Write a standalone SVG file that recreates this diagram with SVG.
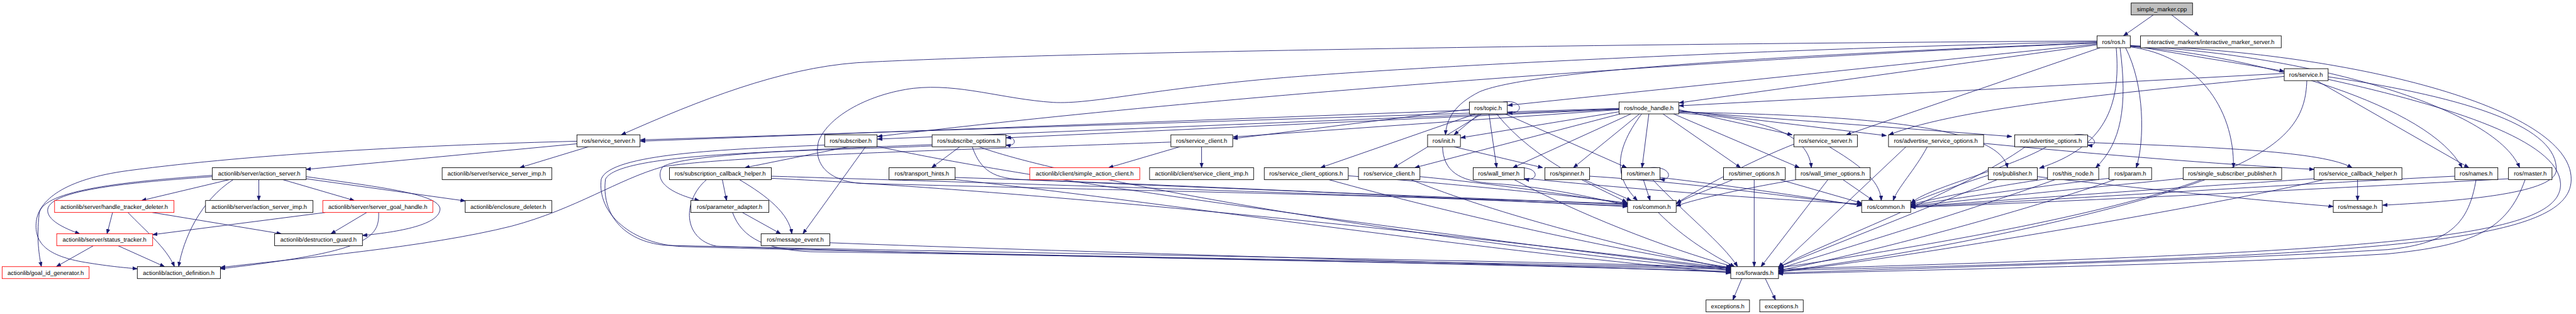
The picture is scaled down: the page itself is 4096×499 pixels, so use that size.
<svg xmlns="http://www.w3.org/2000/svg" width="4096" height="499" viewBox="0 0 4096 499">
<style>
.n rect{fill:#fff;stroke:#000;stroke-width:1.3}
.n.r rect{stroke:#f00}
.n.g rect{fill:#bfbfbf}
.n text{font-family:"Liberation Sans",Arial,sans-serif;font-size:14px;text-anchor:middle;fill:#000}
.e path{fill:none;stroke:#191970;stroke-width:1.3;marker-end:url(#a)}
</style>
<defs>
<marker id="a" markerUnits="userSpaceOnUse" markerWidth="12" markerHeight="10" refX="11" refY="4.5" orient="auto" viewBox="0 0 12 10">
<path d="M0,0.5 L11,4.5 L0,8.5 z" fill="#191970" stroke="#191970" stroke-width="1"/>
</marker>
</defs>
<rect width="4096" height="499" fill="#fff"/>
<g transform="scale(0.678)">
<g id="edges" class="e">
<path d="M5050,35 L4980,84"/>
<path d="M5093,35 L5157,84"/>
<path d="M4996,106 C5100,125 5250,148 5357,167"/>
<path d="M4918,96 C3600,104 2400,125 2010,147 C1830,160 1640,235 1457,316"/>
<path d="M4918,98 C4300,110 3400,150 3010,182 C2700,208 2560,245 2470,240 C2350,232 2250,195 2142,207 C2040,220 1945,270 1920,330 C1905,390 1950,425 2020,430 C2600,445 3400,462 3816,478"/>
<path d="M4918,100 C4300,125 3600,160 3470,215 C3410,245 3392,280 3390,316"/>
<path d="M4918,101 C4300,125 3000,205 2058,320"/>
<path d="M4918,103 L3536,247"/>
<path d="M4918,105 L3938,241"/>
<path d="M4925,112 L4330,316"/>
<path d="M4963,112 C4975,250 4935,345 4783,394"/>
<path d="M4972,112 C4990,250 4975,335 4915,393"/>
<path d="M4985,112 C5030,200 5030,330 5010,393"/>
<path d="M4996,110 C5150,130 5240,250 5238,393"/>
<path d="M4996,109 C5300,130 5700,250 5774,393"/>
<path d="M4996,108 C5400,125 5850,250 5909,393"/>
<path d="M4996,107 C5500,120 6030,250 6030,420 C6030,570 5600,600 4172,634"/>
<path d="M5357,172 L3938,248"/>
<path d="M5357,179 C5000,215 4600,250 4430,316"/>
<path d="M5460,180 C5800,230 6000,300 5995,400 C5990,450 5800,470 5588,481"/>
<path d="M5410,189 C5405,340 5300,460 4172,628"/>
<path d="M5433,189 L5790,393"/>
<path d="M5460,186 C5750,250 6000,330 6005,430 C6010,560 5600,590 4172,631"/>
<path d="M3797,262 L3426,323"/>
<path d="M3797,255 L2058,326"/>
<path d="M3797,256 L2360,323"/>
<path d="M3797,257 L2892,321"/>
<path d="M3797,254 L1502,328"/>
<path d="M3937,257 L4203,316"/>
<path d="M3937,259 L4424,318"/>
<path d="M3937,261 L4718,320"/>
<path d="M3937,263 C4400,270 4690,300 4708,393"/>
<path d="M3825,267 L3548,393"/>
<path d="M3845,267 L3690,393"/>
<path d="M3867,267 L3851,393"/>
<path d="M3900,267 L4082,393"/>
<path d="M3925,267 L4220,393"/>
<path d="M3850,267 C3780,360 3790,420 3840,470"/>
<path d="M3800,267 L3318,393"/>
<path d="M3937,265 C4100,275 4240,300 4248,393"/>
<path d="M3469,267 L3410,316"/>
<path d="M3492,267 L3510,393"/>
<path d="M3460,267 L3097,393"/>
<path d="M3530,267 L3815,393"/>
<path d="M3475,267 L3268,393"/>
<path d="M3446,256 L2892,325"/>
<path d="M3446,258 L1502,331"/>
<path d="M3525,239 C3570,232 3578,268 3536,264"/>
<path d="M3510,267 C3600,380 3750,440 3815,474"/>
<path d="M3383,344 C3385,400 3420,425 3500,430 C3650,440 3760,470 3816,481"/>
<path d="M3410,344 L3618,393"/>
<path d="M4290,344 C4350,380 4410,420 4412,470"/>
<path d="M4207,338 C4100,380 3990,440 3932,476"/>
<path d="M4520,344 C4490,400 4450,440 4440,470"/>
<path d="M4652,336 C4900,360 5200,385 5427,397"/>
<path d="M4470,344 L4171,626"/>
<path d="M4865,316 C4915,310 4925,345 4896,340"/>
<path d="M4800,344 C4700,400 4520,440 4482,476"/>
<path d="M4750,344 C4600,450 4300,560 4172,626"/>
<path d="M4896,334 C5200,345 5450,355 5516,393"/>
<path d="M3116,421 C3400,500 3800,590 4059,627"/>
<path d="M3162,412 C3400,430 3700,460 3817,476"/>
<path d="M3309,421 C3500,500 3850,590 4059,630"/>
<path d="M3330,414 C3500,430 3700,460 3817,478"/>
<path d="M3560,393 C3610,390 3612,425 3575,420"/>
<path d="M3551,421 C3700,500 3900,580 4064,625"/>
<path d="M3575,418 C3900,450 4200,470 4366,478"/>
<path d="M3715,421 L3826,470"/>
<path d="M3728,413 C4000,430 4250,470 4366,480"/>
<path d="M3870,393 C3920,388 3925,425 3893,420"/>
<path d="M3854,421 L3870,470"/>
<path d="M3876,421 C3950,500 4040,570 4075,625"/>
<path d="M3893,416 C4100,440 4250,465 4366,482"/>
<path d="M4114,421 L4114,625"/>
<path d="M4064,421 C4020,440 3960,460 3931,478"/>
<path d="M4174,421 L4366,476"/>
<path d="M4287,421 L4130,625"/>
<path d="M4322,421 L4393,470"/>
<path d="M4213,421 C4100,440 3980,465 3931,483"/>
<path d="M4684,421 L4171,626"/>
<path d="M4663,411 C4600,430 4520,460 4481,476"/>
<path d="M4778,414 C5000,440 5300,470 5472,484"/>
<path d="M4820,421 C4600,500 4300,590 4171,630"/>
<path d="M4802,419 C4650,440 4520,470 4481,479"/>
<path d="M4960,421 C4700,510 4350,600 4171,634"/>
<path d="M4946,418 C4750,440 4540,472 4481,481"/>
<path d="M5172,421 C4900,520 4400,610 4171,636"/>
<path d="M5120,418 C4900,440 4600,470 4481,483"/>
<path d="M5529,421 L5529,470"/>
<path d="M5450,421 C5200,480 4500,600 4171,638"/>
<path d="M5427,419 C5100,440 4700,470 4481,484"/>
<path d="M5807,421 C5790,520 5750,570 5600,585 C5200,610 4600,625 4171,640"/>
<path d="M5757,413 C5400,430 4800,470 4481,485"/>
<path d="M5922,421 C5880,540 5800,575 5600,595 C5200,620 4600,630 4171,642"/>
<path d="M5883,419 C5500,440 4800,475 4481,486"/>
<path d="M1990,344 L1747,393"/>
<path d="M2030,344 L1883,548"/>
<path d="M1934,340 C1700,350 1430,360 1410,420 C1400,500 1480,572 1600,578 C2300,598 3300,612 4059,628"/>
<path d="M2058,343 C2400,420 3300,540 4059,632"/>
<path d="M2251,344 L2185,393"/>
<path d="M2330,316 C2385,310 2392,345 2359,340"/>
<path d="M2186,339 C1900,350 1600,362 1554,391 C1535,420 1560,450 1640,470"/>
<path d="M2186,342 C1900,355 1450,355 1420,420 C1410,500 1460,565 1560,575 C2300,592 3300,606 4059,626"/>
<path d="M2293,343 C2500,420 3300,560 4059,634"/>
<path d="M2280,344 C2300,400 2330,420 2406,421 C2800,440 3500,465 3817,480"/>
<path d="M2767,344 L2600,393"/>
<path d="M2818,344 L2818,393"/>
<path d="M2746,333 C2300,350 1700,365 1554,391 C1450,420 1350,490 1200,530 C1000,580 700,605 517,627"/>
<path d="M1353,337 L718,397"/>
<path d="M1380,344 L1219,393"/>
<path d="M1353,331 C1000,340 600,360 300,400 C150,420 90,470 85,520 C80,570 110,600 200,615 C260,625 300,628 322,630"/>
<path d="M498,414 C300,428 120,445 112,490 C108,515 150,535 187,548"/>
<path d="M498,411 C300,425 100,445 92,500 C85,560 92,600 97,625"/>
<path d="M538,421 L332,470"/>
<path d="M607,421 L607,470"/>
<path d="M663,421 L831,470"/>
<path d="M547,421 C470,470 430,560 419,625"/>
<path d="M718,419 L1091,471"/>
<path d="M718,414 C900,440 1030,455 1032,490 C1030,530 920,545 850,552"/>
<path d="M264,498 L251,548"/>
<path d="M300,498 C340,540 390,580 409,625"/>
<path d="M357,498 L660,548"/>
<path d="M763,498 L358,550"/>
<path d="M860,498 L776,548"/>
<path d="M888,498 C890,560 860,590 517,630"/>
<path d="M219,576 L132,625"/>
<path d="M277,576 L386,625"/>
<path d="M1694,421 L1704,470"/>
<path d="M1734,421 C1800,460 1850,500 1857,548"/>
<path d="M1809,413 C2200,425 3200,455 3817,483"/>
<path d="M1809,418 C2200,435 3000,500 4059,629"/>
<path d="M1657,421 C1600,470 1600,560 1680,577 C2300,600 3300,615 4059,631"/>
<path d="M1741,498 L1831,548"/>
<path d="M1718,498 C1740,560 1800,585 1900,590 C2600,600 3300,615 4059,636"/>
<path d="M1946,569 C2500,590 3300,610 4059,638"/>
<path d="M2240,416 C2700,430 3300,460 3817,484"/>
<path d="M2240,421 C2700,470 3400,580 4059,640"/>
<path d="M3889,498 C3950,560 4020,600 4068,625"/>
<path d="M4085,653 L4064,703"/>
<path d="M4140,653 L4164,703"/>
</g>
<g id="n0" class="n g"><rect x="4998" y="7" width="144" height="28"/><text x="5070" y="26">simple_marker.cpp</text></g>
<g id="n1" class="n"><rect x="4918" y="84" width="78" height="28"/><text x="4957" y="103">ros/ros.h</text></g>
<g id="n2" class="n"><rect x="5020" y="84" width="330" height="28"/><text x="5185" y="103">interactive_markers/interactive_marker_server.h</text></g>
<g id="n3" class="n"><rect x="5357" y="161" width="103" height="28"/><text x="5408" y="180">ros/service.h</text></g>
<g id="n4" class="n"><rect x="3446" y="239" width="89" height="28"/><text x="3490" y="258">ros/topic.h</text></g>
<g id="n5" class="n"><rect x="3797" y="239" width="140" height="28"/><text x="3867" y="258">ros/node_handle.h</text></g>
<g id="n6" class="n"><rect x="1353" y="316" width="148" height="28"/><text x="1427" y="335">ros/service_server.h</text></g>
<g id="n7" class="n"><rect x="1934" y="316" width="123" height="28"/><text x="1995" y="335">ros/subscriber.h</text></g>
<g id="n8" class="n"><rect x="2186" y="316" width="173" height="28"/><text x="2272" y="335">ros/subscribe_options.h</text></g>
<g id="n9" class="n"><rect x="2746" y="316" width="145" height="28"/><text x="2818" y="335">ros/service_client.h</text></g>
<g id="n10" class="n"><rect x="3348" y="316" width="77" height="28"/><text x="3386" y="335">ros/init.h</text></g>
<g id="n11" class="n"><rect x="4207" y="316" width="149" height="28"/><text x="4281" y="335">ros/service_server.h</text></g>
<g id="n12" class="n"><rect x="4429" y="316" width="223" height="28"/><text x="4540" y="335">ros/advertise_service_options.h</text></g>
<g id="n13" class="n"><rect x="4725" y="316" width="171" height="28"/><text x="4810" y="335">ros/advertise_options.h</text></g>
<g id="n14" class="n"><rect x="498" y="393" width="220" height="28"/><text x="608" y="412">actionlib/server/action_server.h</text></g>
<g id="n15" class="n"><rect x="1037" y="393" width="257" height="28"/><text x="1165" y="412">actionlib/server/service_server_imp.h</text></g>
<g id="n16" class="n"><rect x="1570" y="393" width="239" height="28"/><text x="1689" y="412">ros/subscription_callback_helper.h</text></g>
<g id="n17" class="n"><rect x="2085" y="393" width="155" height="28"/><text x="2162" y="412">ros/transport_hints.h</text></g>
<g id="n18" class="n r"><rect x="2415" y="393" width="258" height="28"/><text x="2544" y="412">actionlib/client/simple_action_client.h</text></g>
<g id="n19" class="n"><rect x="2696" y="393" width="244" height="28"/><text x="2818" y="412">actionlib/client/service_client_imp.h</text></g>
<g id="n20" class="n"><rect x="2965" y="393" width="197" height="28"/><text x="3063" y="412">ros/service_client_options.h</text></g>
<g id="n21" class="n"><rect x="3186" y="393" width="144" height="28"/><text x="3258" y="412">ros/service_client.h</text></g>
<g id="n22" class="n"><rect x="3455" y="393" width="120" height="28"/><text x="3515" y="412">ros/wall_timer.h</text></g>
<g id="n23" class="n"><rect x="3623" y="393" width="105" height="28"/><text x="3675" y="412">ros/spinner.h</text></g>
<g id="n24" class="n"><rect x="3803" y="393" width="90" height="28"/><text x="3848" y="412">ros/timer.h</text></g>
<g id="n25" class="n"><rect x="4042" y="393" width="145" height="28"/><text x="4114" y="412">ros/timer_options.h</text></g>
<g id="n26" class="n"><rect x="4211" y="393" width="175" height="28"/><text x="4298" y="412">ros/wall_timer_options.h</text></g>
<g id="n27" class="n"><rect x="4663" y="393" width="115" height="28"/><text x="4720" y="412">ros/publisher.h</text></g>
<g id="n28" class="n"><rect x="4802" y="393" width="120" height="28"/><text x="4862" y="412">ros/this_node.h</text></g>
<g id="n29" class="n"><rect x="4946" y="393" width="100" height="28"/><text x="4996" y="412">ros/param.h</text></g>
<g id="n30" class="n"><rect x="5120" y="393" width="231" height="28"/><text x="5235" y="412">ros/single_subscriber_publisher.h</text></g>
<g id="n31" class="n"><rect x="5427" y="393" width="206" height="28"/><text x="5530" y="412">ros/service_callback_helper.h</text></g>
<g id="n32" class="n"><rect x="5757" y="393" width="101" height="28"/><text x="5807" y="412">ros/names.h</text></g>
<g id="n33" class="n"><rect x="5883" y="393" width="102" height="28"/><text x="5934" y="412">ros/master.h</text></g>
<g id="n34" class="n r"><rect x="128" y="470" width="280" height="28"/><text x="268" y="489">actionlib/server/handle_tracker_deleter.h</text></g>
<g id="n35" class="n"><rect x="482" y="470" width="252" height="28"/><text x="608" y="489">actionlib/server/action_server_imp.h</text></g>
<g id="n36" class="n r"><rect x="757" y="470" width="258" height="28"/><text x="886" y="489">actionlib/server/server_goal_handle.h</text></g>
<g id="n37" class="n"><rect x="1091" y="470" width="203" height="28"/><text x="1192" y="489">actionlib/enclosure_deleter.h</text></g>
<g id="n38" class="n"><rect x="1620" y="470" width="183" height="28"/><text x="1711" y="489">ros/parameter_adapter.h</text></g>
<g id="n39" class="n"><rect x="3817" y="470" width="114" height="28"/><text x="3874" y="489">ros/common.h</text></g>
<g id="n40" class="n"><rect x="4366" y="470" width="115" height="28"/><text x="4423" y="489">ros/common.h</text></g>
<g id="n41" class="n"><rect x="5472" y="470" width="115" height="28"/><text x="5529" y="489">ros/message.h</text></g>
<g id="n42" class="n r"><rect x="133" y="548" width="225" height="28"/><text x="245" y="567">actionlib/server/status_tracker.h</text></g>
<g id="n43" class="n"><rect x="644" y="548" width="206" height="28"/><text x="747" y="567">actionlib/destruction_guard.h</text></g>
<g id="n44" class="n"><rect x="1785" y="548" width="161" height="28"/><text x="1865" y="567">ros/message_event.h</text></g>
<g id="n45" class="n r"><rect x="5" y="625" width="204" height="28"/><text x="107" y="644">actionlib/goal_id_generator.h</text></g>
<g id="n46" class="n"><rect x="322" y="625" width="195" height="28"/><text x="419" y="644">actionlib/action_definition.h</text></g>
<g id="n47" class="n"><rect x="4059" y="625" width="112" height="28"/><text x="4115" y="644">ros/forwards.h</text></g>
<g id="n48" class="n"><rect x="4001" y="703" width="102" height="28"/><text x="4052" y="722">exceptions.h</text></g>
<g id="n49" class="n"><rect x="4127" y="703" width="102" height="28"/><text x="4178" y="722">exceptions.h</text></g>
</g>
</svg>
